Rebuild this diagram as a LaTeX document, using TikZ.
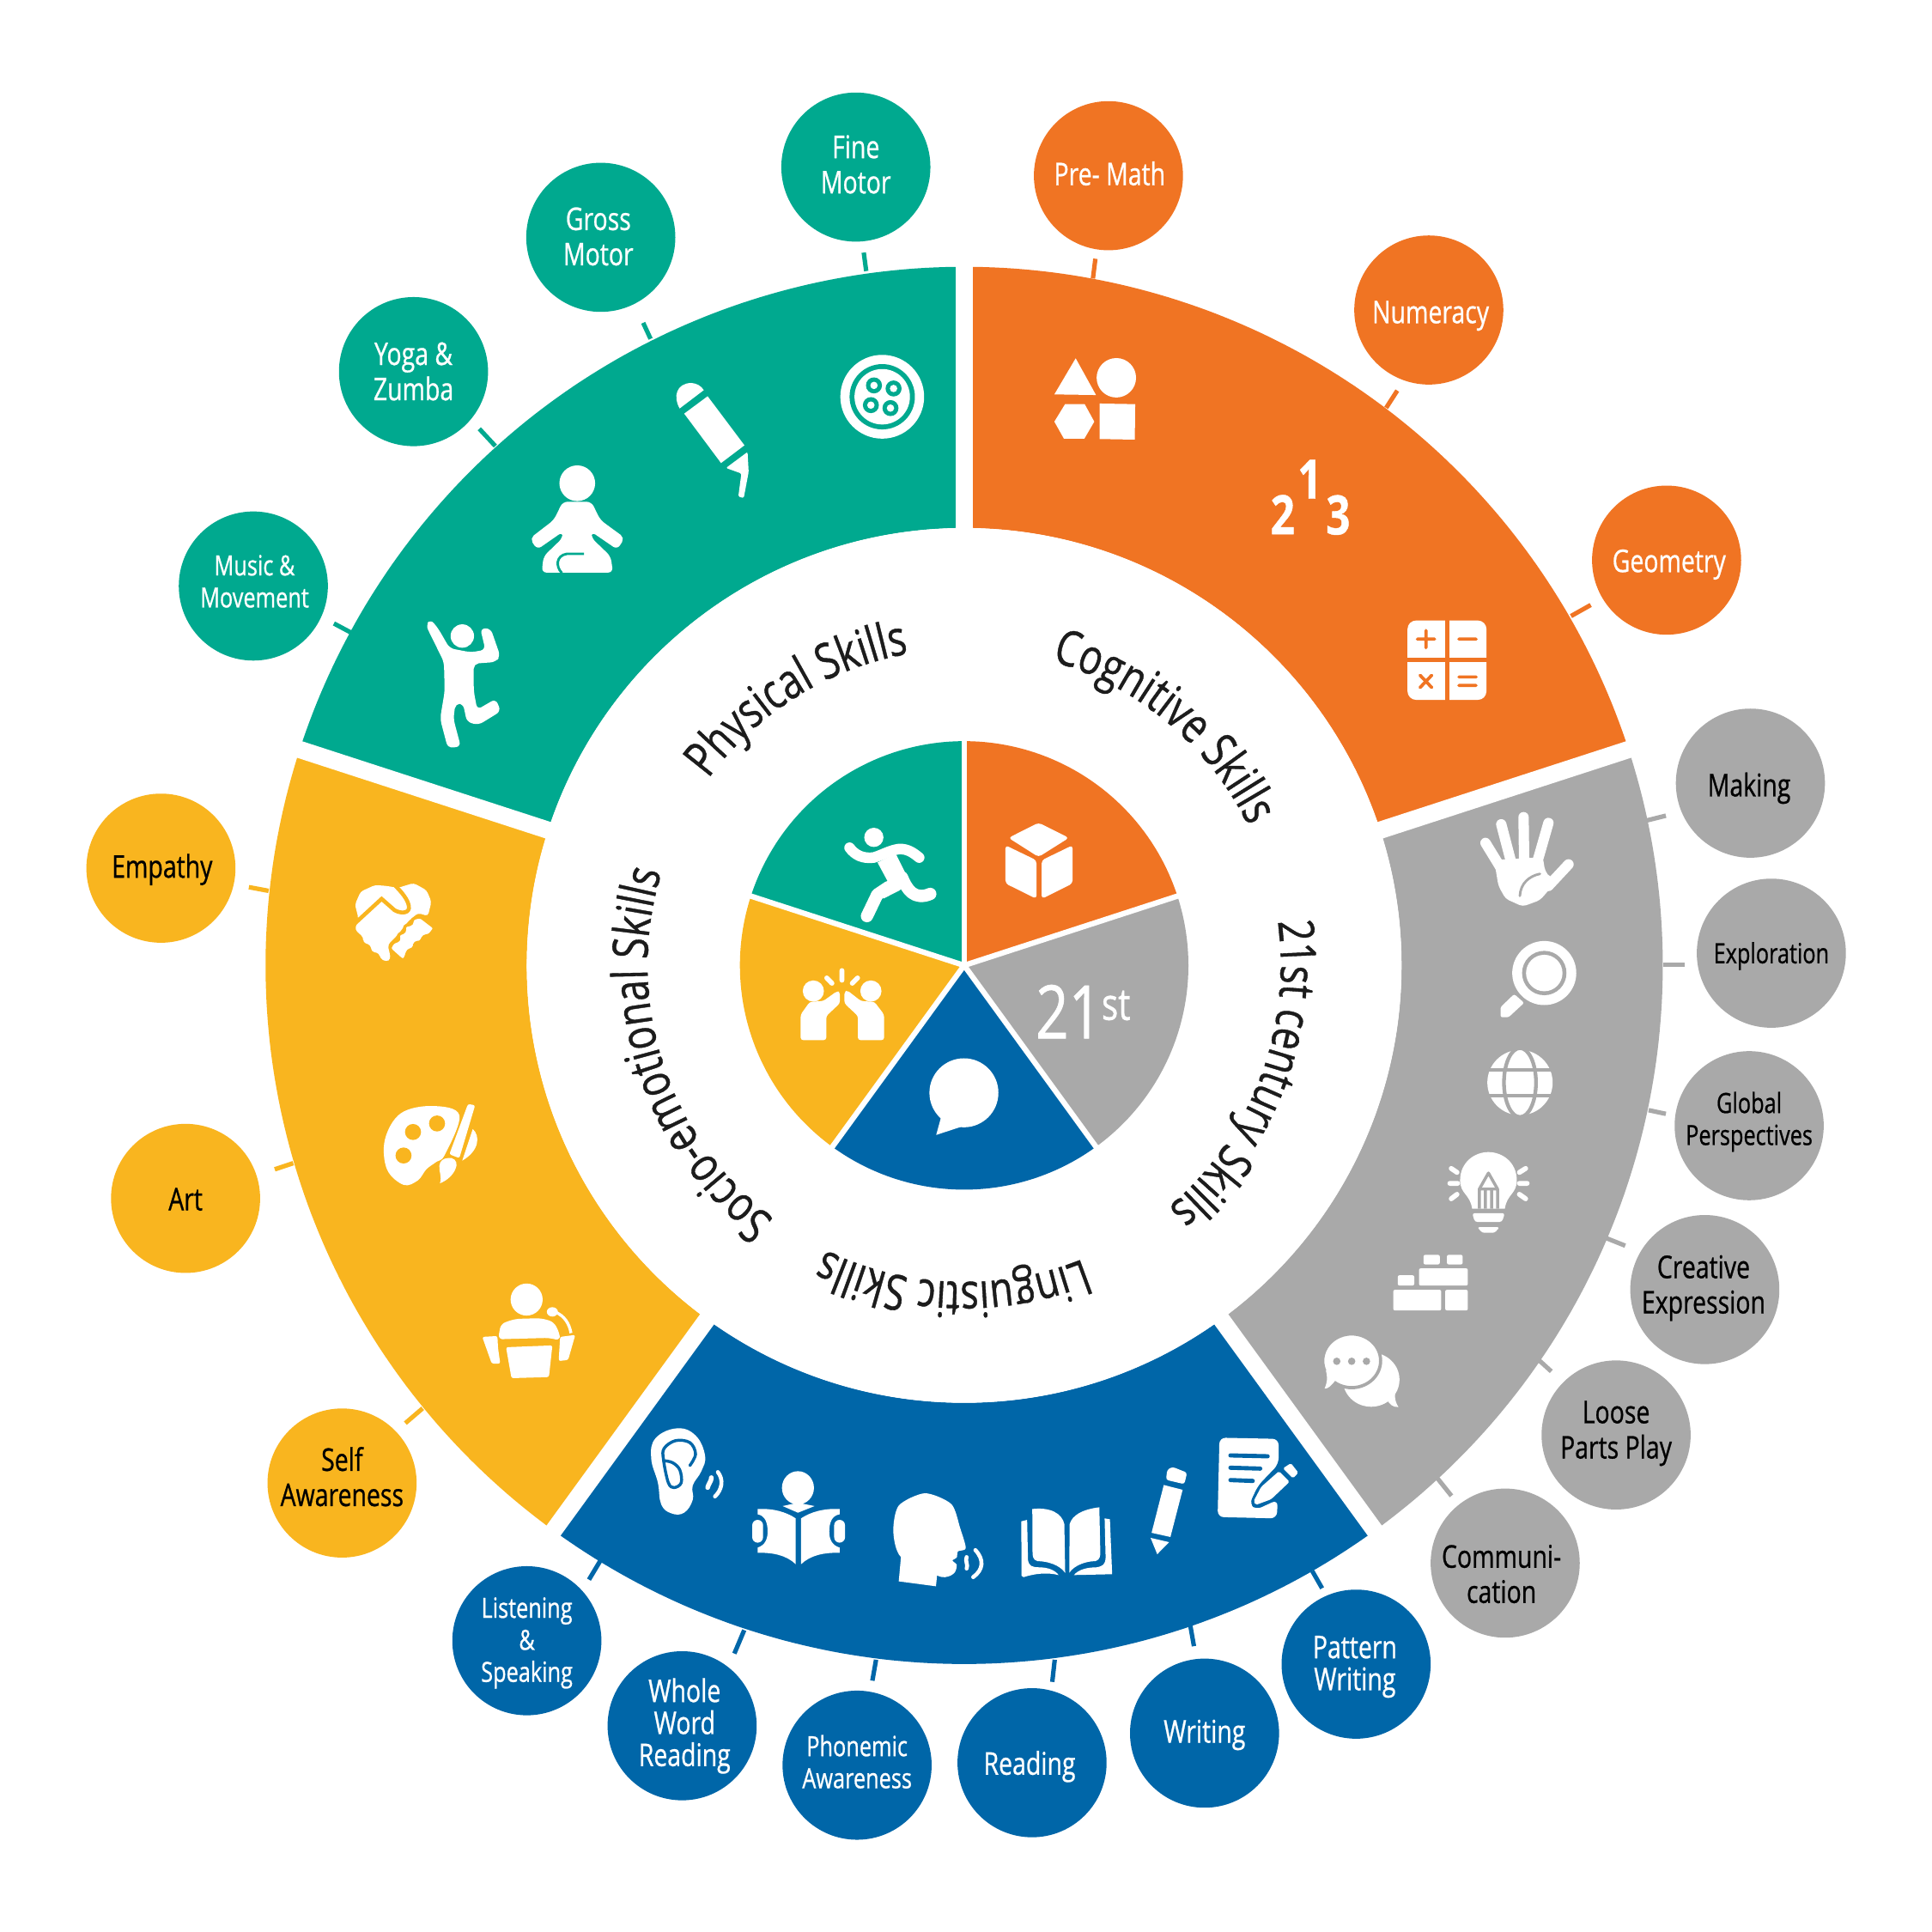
\documentclass[tikz,border=0pt]{standalone}
\usepackage{fontspec}
\setmainfont[FakeStretch=0.78,FakeBold=0.7]{Open Sans}
\usetikzlibrary{decorations.text}
\definecolor{cteal}{HTML}{00A98F}
\definecolor{corange}{HTML}{F07423}
\definecolor{cgray}{HTML}{A9A9A9}
\definecolor{cblue}{HTML}{0066A8}
\definecolor{camber}{HTML}{F9B51F}
\definecolor{cdark}{HTML}{1C1C1C}
\newcommand\ringsect[3]{\fill[#1] plot[domain=#2:#3,samples=90] ({782.5+567*cos(\x)},{783.5-567*sin(\x)}) -- plot[domain=#3:#2,samples=60] ({782.5+355*cos(\x)},{783.5-355*sin(\x)}) -- cycle;}
\newcommand\piesect[3]{\fill[#1] (782.5,783.5) -- plot[domain=#2:#3,samples=60] ({782.5+182*cos(\x)},{783.5-182*sin(\x)}) -- cycle;}
\newcommand\curvefont{\fontsize{20}{20}\selectfont\color{cdark}}
\newcommand\curvetext[2]{\path[postaction={decorate,decoration={text along path,text align=center,text={|\curvefont|#2}}}] plot[domain=#1+48:#1-48,samples=70] ({782.5+257*cos(\x)},{783.5-257*sin(\x)});}
\newcommand\fa{\fontsize{12.7}{14.3}\selectfont}
\newcommand\fb{\fontsize{11.3}{13}\selectfont}
\newcommand\fc{\fontsize{12.7}{13}\selectfont}
\tikzset{
  disc/.style={circle,minimum size=60.5pt,inner sep=0pt,xshift=.3pt,yshift=-.3pt},
  lbl/.style={inner sep=0pt,align=center,xshift=.3pt,yshift=-.3pt,execute at begin node=\strut,execute at end node=\strut},
  tickline/.style={line width=1.8pt},
  wave/.style={draw=white,line width=1.6pt,line cap=round},
}
% name, x, y, disc colour, text colour, font, dx, dy, text
\newcommand\leaf[9]{\node[disc,fill=#4] (#1) at (#2,#3) {};
  \node[lbl,text=#5,font=#6] (#1-label) at ({#2+#7},{#3+#8}) {#9};}
\begin{document}
\begin{tikzpicture}[x=0.5pt,y=-0.5pt]
\path[use as bounding box,fill=white] (0,0) rectangle (1568,1568);
% outer ring
\ringsect{cteal}{90}{162}
\ringsect{corange}{18}{90}
\ringsect{cgray}{-54}{18}
\ringsect{cblue}{-126}{-54}
\ringsect{camber}{162}{234}
\foreach \a in {90,18,-54,-126,162}
  \draw[white,line width=7pt] (782.5,783.5) -- ({782.5+575*cos(\a)},{783.5-575*sin(\a)});
\fill[white] (782.5,783.5) circle[radius=355];
% inner pie
\piesect{cteal}{90}{162}
\piesect{corange}{18}{90}
\piesect{cgray}{-54}{18}
\piesect{cblue}{-126}{-54}
\piesect{camber}{162}{234}
\foreach \a in {90,18,-54,-126,162}
  \draw[white,line width=2.2pt] (782.5,783.5) -- ({782.5+187*cos(\a)},{783.5-187*sin(\a)});
% circles
\leaf{fine}{694}{135}{cteal}{white}{\fa}{0}{2}{Fine\\Motor}
\leaf{gross}{487}{192}{cteal}{white}{\fa}{-2}{3.5}{Gross\\Motor}
\leaf{yoga}{335}{301}{cteal}{white}{\fa}{0}{4}{Yoga \&\\Zumba}
\leaf{music}{205}{475}{cteal}{white}{\fb}{1}{0}{Music \&\\Movement}
\leaf{empathy}{130}{704}{camber}{black}{\fa}{1}{2}{Empathy}
\leaf{art}{150}{972}{camber}{black}{\fa}{0}{4}{Art}
\leaf{self}{277}{1203}{camber}{black}{\fa}{0}{-1}{Self\\Awareness}
\leaf{listen}{427}{1331}{cblue}{white}{\fb}{0}{3}{Listening\\\&\\Speaking}
\leaf{whole}{553}{1400}{cblue}{white}{\fc}{2}{1}{Whole\\Word\\Reading}
\leaf{phon}{695}{1432}{cblue}{white}{\fb}{0}{1}{Phonemic\\Awareness}
\leaf{reading}{837}{1430}{cblue}{white}{\fa}{-2}{4}{Reading}
\leaf{writing}{977}{1406}{cblue}{white}{\fa}{0}{2}{Writing}
\leaf{pattern}{1100}{1350}{cblue}{white}{\fc}{-1}{3}{Pattern\\Writing}
\leaf{comm}{1221}{1268}{cgray}{black}{\fa}{-3}{13}{Communi-\\cation}
\leaf{loose}{1311}{1164}{cgray}{black}{\fa}{0}{0}{Loose\\Parts Play}
\leaf{creative}{1383}{1046}{cgray}{black}{\fa}{-1}{0}{Creative\\Expression}
\leaf{global}{1419}{913}{cgray}{black}{\fb}{0}{-2}{Global\\Perspectives}
\leaf{explore}{1437}{773}{cgray}{black}{\fb}{0}{3}{Exploration}
\leaf{making}{1420}{635}{cgray}{black}{\fa}{-1}{5}{Making}
\leaf{geometry}{1352}{454}{corange}{white}{\fa}{2}{4}{Geometry}
\leaf{numeracy}{1159}{251}{corange}{white}{\fa}{1.5}{5}{Numeracy}
\leaf{premath}{899}{142}{corange}{white}{\fa}{1}{2}{Pre- Math}
% ticks
\foreach \n/\c/\ax/\ay/\bx/\by in {
 fine/cteal/701/205/703/220, gross/cteal/522/262/528/275, yoga/cteal/389/348/402/362, music/cteal/271/506/286/514,
 empathy/camber/202/720/218/723, art/camber/223/949/238/944, self/camber/329/1155/343/1143,
 listen/cblue/478/1282/487/1267, whole/cblue/596/1342/604/1323, phon/cblue/708/1364/711/1347, reading/cblue/854/1365/856/1347, writing/cblue/969/1336/966/1319, pattern/cblue/1073/1289/1065/1275,
 comm/cgray/1178/1214/1166/1199, loose/cgray/1259/1113/1248/1103, creative/cgray/1319/1011/1304/1005, global/cgray/1352/904/1338/901, explore/cgray/1367/783/1350/783, making/cgray/1352/662/1336/666,
 geometry/corange/1291/491/1275/500, numeracy/corange/1134/317/1125/331, premath/corange/889/210/887/226}{
  \coordinate (\n-a) at (\ax,\ay);
  \coordinate (\n-b) at (\bx,\by);
  \draw[tickline,\c] (\n-a) -- (\n-b);
}
% curved labels
\curvetext{122}{Physical Skills}
\curvetext{50}{Cognitive Skills}
\curvetext{-21}{21st century Skills}
\curvetext{-92}{Linguistic Skills}
\curvetext{198}{Socio-emotional Skills}
% ---- teal icons
\fill[white] (716,322) circle[radius=34];
\fill[cteal] (716,322) circle[radius=26.5];
\fill[white] (716,322) circle[radius=22.5];
\foreach \x/\y in {709.3/312.8,725.2/315.3,706.8/328.8,722.7/331.2}{
 \fill[cteal] (\x,\y) circle[radius=6.5];
 \fill[white] (\x,\y) circle[radius=3];}
\fill[white] (574.3,321.6) -- (604.2,361.4) -- (585.2,375.8) -- (555.3,335.7) -- cycle;
\fill[white] (571.2,316.6) -- (551.6,331.5) .. controls (546,322) and (549,311) .. (561,310.8) .. controls (565,311) and (569,313) .. (571.2,316.6) -- cycle;
\fill[white,rounded corners=0.5pt] (606.7,366.8) -- (589.2,379.8) -- (601.7,384.3) -- (599.2,403) -- (603.6,404.2) -- (607.6,383) -- cycle;
\fill[white] (468.5,392.2) circle[radius=14.5];
\fill[white,rounded corners=2pt] (456.7,407.2) -- (480,407.2) -- (487.2,422) -- (507,436.5) -- (501,446) -- (480,431.6) -- (480,436.5) -- (495.6,451.5) -- (497.5,464.7) -- (439.6,464.7) -- (441.2,451.5) -- (456.7,436.5) -- (456.7,431.6) -- (436,446) -- (430,437) -- (449.5,422) -- cycle;
\draw[cteal,line width=1pt] (474,449.5) -- (460,449.5) .. controls (451,451) and (451,460) .. (456,465);
\fill[white] (375.2,516.2) circle[radius=9.5];
\fill[white,rounded corners=2pt] (345.6,507.5) -- (349.4,502.5) -- (355.6,510) -- (364.9,526.1) -- (382,529.4) -- (393.9,527.4) -- (389.8,510) -- (398.2,510) -- (406,532.4) -- (402.3,537.3) -- (384.5,538.6) -- (384.5,561) -- (387.3,575.9) -- (402.3,567.2) -- (406.5,577.2) -- (388.3,588.4) -- (378.9,585.9) -- (375.8,571) -- (369.6,571) -- (368,583.4) -- (374,606) -- (363.4,607) -- (357.2,583.4) -- (360.9,561) -- (360.3,537.3) -- cycle;
% ---- orange icons
\fill[white] (873,290.8) -- (889.5,320.6) -- (855.7,320.1) -- cycle;
\fill[white] (906,306.6) circle[radius=16];
\fill[white] (864.4,328) -- (880.3,328) -- (888.1,342.2) -- (880,356.1) -- (863.5,356.1) -- (855.7,342.2) -- cycle;
\fill[white] (892.4,327.5) -- (921.3,328) -- (921,356.8) -- (892.4,356.3) -- cycle;
\node[white,font=\fontsize{22}{22}\bfseries\selectfont,inner sep=0pt] (one) at (1063,389) {1};
\node[white,font=\fontsize{22}{22}\bfseries\selectfont,inner sep=0pt] (two) at (1041,417.6) {2};
\node[white,font=\fontsize{22}{22}\bfseries\selectfont,inner sep=0pt] (three) at (1086,418) {3};
\fill[white,rounded corners=3.5pt] (1142.3,503.6) rectangle (1206.4,568);
\draw[corange,line width=1.7pt] (1174.3,503) -- (1174.3,568.5) (1142,535.4) -- (1207,535.4);
\draw[corange,line width=1.3pt,line cap=round] (1150.3,518.7) -- (1164.3,518.7) (1157.3,511.7) -- (1157.3,525.7) (1184,518.7) -- (1198,518.7) (1152.5,548) -- (1162,558) (1162,548) -- (1152.5,558) (1184,549.4) -- (1198,549.4) (1184,556.3) -- (1198,556.3);
% ---- gray icons
\draw[white,line width=4.2pt,line cap=round] (1205.6,684.1) -- (1218.4,705) (1218.4,669) -- (1226.5,700) (1236.5,663.2) -- (1237,700) (1256.7,667.9) -- (1247.5,700) (1273,701.5) -- (1256.7,719);
\fill[white,rounded corners=1.5pt] (1212.6,698) -- (1216.1,719) -- (1221.9,729.4) -- (1235.8,735.7) -- (1249.8,730.6) -- (1266,712) -- (1258,712) -- (1254,707) -- (1252.1,695.7) -- cycle;
\draw[cgray,line width=1pt,line cap=round] (1233.5,727.1) .. controls (1234,717) and (1241,711) .. (1249.8,709.2);
\fill[white] (1253.3,789.7) circle[radius=26];
\fill[cgray] (1253.3,789.7) circle[radius=18];
\fill[white] (1253.3,789.7) circle[radius=14.8];
\fill[white,rounded corners=0.8pt] (1228.9,806.8) -- (1237,813.9) -- (1224.3,825.6) -- (1217.8,825.6) -- (1217.8,817.4) -- cycle;
\fill[white] (1233.6,878.6) circle[radius=26.5];
\draw[cgray,line width=1.5pt] (1233.6,878.6) ellipse[x radius=13,y radius=28];
\draw[cgray,line width=1.5pt] (1205,868.5) -- (1262,868.5) (1205,889) -- (1262,889);
\fill[white] (1194.8,981) .. controls (1193,969) and (1185,969) .. (1185,958) .. controls (1185,943) and (1197,935) .. (1208,935) .. controls (1219,935) and (1231,943) .. (1231,958) .. controls (1231,969) and (1223,969) .. (1221.3,981) -- cycle;
\fill[white,rounded corners=1pt] (1194.8,984.6) -- (1221.3,984.6) -- (1219,991.7) -- (1197,991.7) -- cycle;
\fill[white,rounded corners=0.8pt] (1199,996) -- (1217,996) -- (1213,1000.5) -- (1203,1000.5) -- cycle;
\draw[cgray,line width=1.2pt,line join=round] (1200.6,981) -- (1200.6,965) -- (1208,952) -- (1215.4,965) -- (1215.4,981) (1200.6,965) -- (1215.4,965) (1205.5,965) -- (1205.5,981) (1210.5,965) -- (1210.5,981);
\draw[white,line width=2pt,line cap=round] (1177.8,948.3) -- (1182.5,951.5) (1176.7,960.4) -- (1183,960.4) (1177.8,972.9) -- (1182.5,969.3) (1238.2,948.3) -- (1233.1,951.5) (1233.1,960.4) -- (1239.4,960.4) (1233.1,969.3) -- (1238.2,972.9);
\fill[white,rounded corners=0.7pt] (1155.3,1018.4) rectangle (1168.5,1026.2);
\fill[white,rounded corners=0.7pt] (1174.3,1018.4) rectangle (1187.1,1026.2);
\fill[white,rounded corners=0.7pt] (1151.6,1029.4) rectangle (1191.3,1043.3);
\fill[white,rounded corners=0.7pt] (1134.4,1035) rectangle (1147.8,1043.3);
\fill[white,rounded corners=0.7pt] (1130.7,1046.8) rectangle (1169.7,1063.5);
\fill[white,rounded corners=0.7pt] (1172.9,1046.8) rectangle (1191.3,1063.5);
\fill[white] (1112.8,1119.7) ellipse[x radius=23,y radius=22];
\fill[white] (1125,1135) .. controls (1128,1140) and (1130,1142) .. (1135,1142) .. controls (1131,1136) and (1132,1130) .. (1133,1126) -- cycle;
\draw[cgray,line width=1.3pt,fill=white] (1097,1104.4) ellipse[x radius=23.5,y radius=21.8];
\fill[white] (1084,1120) .. controls (1080,1125) and (1078,1127) .. (1075,1127) .. controls (1078,1120) and (1077,1116) .. (1076,1112) -- cycle;
\foreach \x in {1084.9,1097,1109} \fill[cgray] (\x,1104.8) circle[radius=3];
% ---- blue icons
\fill[white] plot[smooth cycle,tension=0.7] coordinates {(549.4,1159.2) (564.5,1165) (572.2,1181.3) (569.2,1194) (562.2,1205.7) (562.2,1217.3) (555.2,1227.7) (544.8,1228.2) (536.6,1220.8) (533.9,1203.3) (528.5,1183.6) (532,1167.3)};
\draw[cblue,line width=1.2pt,line cap=round] plot[smooth,tension=0.6] coordinates {(559.9,1189.4) (564.5,1180.1) (559.9,1170.8) (548.3,1169.2) (539,1175.5) (538.5,1184.8) (542.4,1203.3) (547.1,1207.3) (552.9,1203.3) (551.7,1192.9) (545.9,1187.1) (539,1185.5)};
\draw[wave,line width=1.9pt] (577.3,1199.2) .. controls (577.5,1202) and (575,1204) .. (574.3,1207.3);
\draw[wave] (582.6,1194.7) .. controls (587.5,1201) and (586,1209) .. (580.3,1214.5);
\fill[white] (647.6,1207.5) ellipse[x radius=13,y radius=13.5];
\fill[white] (635.2,1222.3) -- (647.6,1219.6) -- (661.1,1222.3) -- (647.6,1227.7) -- cycle;
\fill[white] (614.9,1224.7) .. controls (627,1224) and (638,1227) .. (645.8,1232.3) -- (645.8,1269.5) .. controls (638,1262) and (627,1260) .. (614.9,1260.2) -- (614.9,1256) .. controls (621,1254) and (623,1249) .. (623,1243) .. controls (623,1236) and (621,1230) .. (614.9,1229) -- cycle;
\fill[white] (681.4,1224.7) .. controls (669,1224) and (658,1227) .. (650.1,1232.3) -- (650.1,1269.5) .. controls (658,1262) and (669,1260) .. (681.4,1260.2) -- (681.4,1256) .. controls (675,1254) and (673,1249) .. (673,1243) .. controls (673,1236) and (675,1230) .. (681.4,1229) -- cycle;
\fill[white,rounded corners=2.2pt] (610.5,1233.5) rectangle (619.3,1252);
\fill[white,rounded corners=2.2pt] (677,1233.5) rectangle (685.8,1252);
\fill[white] plot[smooth cycle,tension=0.45] coordinates {(731.2,1263.7) (725,1243) (729.4,1221.9) (750.7,1211.9) (772.1,1220.7) (779.2,1240) (783.8,1256.5) (777.5,1259) (776.5,1264) (773,1266.5) (776.5,1270) (775,1276) (770,1279.3) (761.4,1279)};
\fill[white] (731.2,1263.7) -- (729.4,1283.4) -- (759.6,1287.4) -- (761.4,1270) -- cycle;
\draw[wave] (784.5,1263.7) .. controls (783,1267) and (786,1270) .. (784.5,1273);
\draw[wave] (791.6,1258) .. controls (799,1266) and (798,1274) .. (789.8,1280);
\fill[white] (837.8,1224.7) .. controls (852,1223) and (862,1228) .. (863.8,1237) -- (864.5,1276.5) .. controls (860,1270) and (850,1267) .. (842,1267) .. controls (838,1266) and (838,1262) .. (838,1260) -- cycle;
\fill[white] (892.2,1223.3) .. controls (878,1225) and (870,1230) .. (868.1,1237) -- (867.8,1276.5) .. controls (872,1270) and (882,1267) .. (889,1267) .. controls (893,1266) and (893,1262) .. (893,1260) -- cycle;
\fill[white] (828.9,1234.7) -- (833.6,1233.5) -- (834.3,1266) .. controls (835,1271) and (838,1272) .. (843,1272) .. controls (850,1272) and (856,1274) .. (859.2,1278.3) .. controls (850,1276) and (840,1277) .. (830.7,1280) -- (829,1278.8) -- cycle;
\fill[white] (896.5,1232.3) -- (900.8,1233) -- (902.6,1277.6) -- (871.6,1278.3) .. controls (875,1274) and (882,1272) .. (890,1272) .. controls (895,1271) and (897,1270) .. (897.3,1264) -- cycle;
\fill[white] (944.5,1205.2) -- (959.8,1209.1) -- (949.9,1247.4) -- (934.6,1244) -- cycle;
\fill[white,rounded corners=1pt] (946.3,1201) -- (961.2,1204.5) -- (963.4,1195.2) -- (951.6,1190.5) -- (947.3,1192.8) -- cycle;
\fill[white] (933.8,1248.1) -- (948.8,1251.6) -- (939.2,1261.4) -- cycle;
\fill[white,rounded corners=2.5pt] (989.7,1166.8) -- (1037.7,1167.8) -- (1037.7,1188.2) -- (1021,1205.6) -- (1013.9,1220.7) -- (1019.2,1225.4) -- (1037,1217.2) -- (1036.2,1232.3) -- (988.2,1231.2) -- cycle;
\draw[cblue,line width=1.7pt,line cap=round] (998.6,1181.2) -- (1028.8,1181.9) (998.6,1191.2) -- (1022.8,1191.9) (998.6,1201.2) -- (1016.7,1201.9);
\fill[white,rounded corners=0.6pt] (1038,1194) -- (1046.6,1202.6) -- (1031.6,1216.8) -- (1019.2,1221.4) -- (1017.4,1218.4) -- (1023.5,1206.8) -- cycle;
\fill[white,rounded corners=0.6pt] (1041.2,1191.7) -- (1047.7,1187.5) -- (1053.7,1195.2) -- (1049.4,1199.8) -- cycle;
% ---- amber icons
\fill[white,rounded corners=1.2pt] (288.1,754.5) -- (290.9,745.3) -- (288.1,734.1) -- (292.7,723.6) -- (304.4,718.3) -- (313.6,719) -- (322.9,720.6) -- (335.7,716.7) -- (346.2,722.5) -- (350.1,731.8) -- (347.3,743.4) -- (339.2,741) -- (331,748) -- (322.9,758.5) -- (314.8,766.6) -- (317.1,778.2) -- (313.6,780.6) -- (308.5,777.8) -- (307.8,773.6) -- (301.6,772.4) -- (300.9,767.1) -- (294.6,764.8) -- (295,760.8) -- cycle;
\draw[camber,line width=1.6pt] (285.8,751.5) -- (309.7,729.5) -- (320.2,738.7) .. controls (326,742) and (333,741) .. (331.8,735.3) .. controls (331,730) and (326,724) .. (320,718);
\draw[camber,line width=1.2pt,fill=white,rounded corners=1pt] (341.1,743.9) -- (353.1,753.1) -- (348.5,759.2) -- (343.8,759.7) -- (341.5,764.8) -- (336.9,764.8) -- (335.7,770.1) -- (331.1,771.3) -- (328.7,778.7) -- (326.4,779.4) -- (316,770.1) -- (318.8,764.8) -- (324.1,763.1) -- (322.9,758.5) -- (328.7,756.2) -- (328,751.5) -- (334.5,749.9) -- (334.5,745.7) -- cycle;
\fill[white] plot[smooth cycle,tension=0.6] coordinates {(372.8,905) (350.8,897.6) (325.2,903.6) (312.4,924.8) (314,948.9) (327.5,961.6) (339.1,958) (346.1,948.9) (354.2,942.9) (361.2,936.8)};
\foreach \x/\y in {335.2/918.7,354.7/911.8,327.5/937.8} \fill[camber] (\x,\y) ellipse[x radius=6.5,y radius=6.5];
\fill[white,rounded corners=0.8pt] (379.8,896) -- (385.6,897) -- (372.8,939.9) -- (364.7,936.8) -- cycle;
\fill[white] (363.5,939.9) .. controls (368,939) and (371,942) .. (370.5,946) .. controls (369,953) and (363,958) .. (357,960.4) .. controls (359,955) and (356,951) .. (356.6,946) .. controls (357,942) and (360,940) .. (363.5,939.9) -- cycle;
\fill[white] (383.7,916.3) .. controls (390,922) and (389,934) .. (375.1,942) -- cycle;
\fill[white] (427.4,1054.7) ellipse[x radius=13,y radius=13];
\fill[white,rounded corners=2pt] (404.2,1087) -- (406.5,1074.3) -- (418.1,1070.4) -- (439,1069.8) -- (449.5,1072.8) -- (454.1,1081.9) -- (454.6,1088) -- (446,1085.8) -- (411.2,1086.7) -- cycle;
\fill[white,rounded corners=0.8pt] (410.7,1093.4) -- (448.3,1091.9) -- (445.5,1117.6) -- (415.1,1118.5) -- cycle;
\fill[white,rounded corners=0.8pt] (391.4,1085) -- (403.7,1084.3) -- (404.2,1094) -- (406,1106.7) -- (399.1,1106.7) -- cycle;
\fill[white,rounded corners=0.8pt] (454.6,1085) -- (453.4,1104.6) -- (461.1,1103.7) -- (466.9,1083.4) -- cycle;
\fill[white] (448.3,1064.7) ellipse[x radius=4.5,y radius=3.8];
\draw[white,line width=1.2pt] (451,1065) .. controls (458,1068) and (462,1074) .. (463.4,1081.9);
% ---- pie icons
\fill[white] (709.2,679.6) circle[radius=7.8];
\draw[white,line width=4.3pt,line cap=round,line join=round] (689.5,688) .. controls (694,694) and (700,697) .. (709,696) .. controls (716,694) and (722,690) .. (730,689) .. controls (737,689) and (741,692) .. (746,696);
\fill[white] (712.2,700) -- (726.8,692.6) -- (736.6,712.2) -- (730.5,722.4) -- (717,729.3) -- (720.7,715.8) -- cycle;
\draw[white,line width=5pt,line cap=round,line join=round] (732,712) .. controls (736,722) and (742,731) .. (755,725.5);
\draw[white,line width=5pt,line cap=round,line join=round] (721,720) -- (712,726) -- (703.6,743.5);
\fill[white,rounded corners=1.3pt] (842.9,667.7) -- (867.5,680) -- (842.9,695.5) -- (818.5,680) -- cycle;
\fill[white,rounded corners=1.3pt] (816,686) -- (841.2,698.2) -- (841.2,729.5) -- (816,717) -- cycle;
\fill[white,rounded corners=1.3pt] (870.5,686) -- (845.4,698.2) -- (845.4,729.5) -- (870.5,717) -- cycle;
\fill[white] (660.1,804.3) circle[radius=8.6];
\fill[white] (706.8,804.3) circle[radius=8.6];
\fill[white,rounded corners=1pt] (649.8,823.4) -- (657.2,813.1) -- (668.2,812.4) -- (679.2,804.5) -- (681.6,805) -- (681.6,814.3) -- (670.6,824.6) -- (670.6,844.1) -- (649.8,844.1) -- cycle;
\fill[white,rounded corners=1pt] (717.5,823.4) -- (709.7,813.1) -- (698.7,812.4) -- (687.7,803.8) -- (685.3,805) -- (685.3,814.3) -- (696.3,824.6) -- (696.3,844.1) -- (717.5,844.1) -- cycle;
\draw[white,line width=2pt,line cap=round] (683.3,787.7) -- (683.3,795.5) (671,793.7) -- (675.2,798) (696,793.7) -- (691.7,798);
\fill[white] (782.3,886.9) circle[radius=28];
\fill[white] (764.2,905) -- (759.8,921.1) -- (780,914.5) -- cycle;
\node[white,font=\fontsize{30}{30}\selectfont,inner sep=0pt] (cent) at (879,821) {21\raisebox{7.5pt}{\fontsize{18}{18}\selectfont st}};
\end{tikzpicture}
\end{document}
